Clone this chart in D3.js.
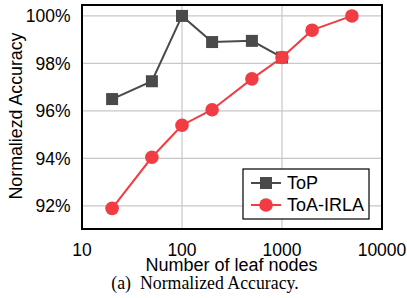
<!DOCTYPE html>
<html>
<head>
<meta charset="utf-8">
<script src="https://cdn.jsdelivr.net/npm/d3@7"></script>
<style>
  body { margin: 0; background: #fff; }
  svg { display: block; }
</style>
</head>
<body>
<svg id="chart" width="407" height="298"></svg>
<script>
// data
const topX = [20, 50, 100, 200, 500, 1000];
const topY = [96.5, 97.25, 100, 98.9, 98.95, 98.25];
const irlaX = [20, 50, 100, 200, 500, 1000, 2000, 5000];
const irlaY = [91.9, 94.05, 95.4, 96.05, 97.35, 98.25, 99.4, 100];
const xTicks = [10, 100, 1000, 10000];
const yTicks = [92, 94, 96, 98, 100];
const seriesNames = ["ToP", "ToA-IRLA"];

const svg = d3.select("#chart");
const pLeft = 82, pRight = 382, pTop = 5, pBottom = 229;
const font = "'Liberation Sans', Arial, sans-serif";

const x = d3.scaleLog().domain([10, 10000]).range([pLeft, pRight]);
const y = d3.scaleLinear().domain([91.03, 100.46]).range([pBottom, pTop]);

// grid
svg.append("g").selectAll("line").data(yTicks).enter().append("line")
  .attr("x1", pLeft).attr("x2", pRight)
  .attr("y1", d => y(d)).attr("y2", d => y(d))
  .attr("stroke", "#c8c8c8").attr("stroke-width", 1.2);
svg.append("g").selectAll("line").data(xTicks.slice(1, -1)).enter().append("line")
  .attr("y1", pTop).attr("y2", pBottom)
  .attr("x1", d => x(d)).attr("x2", d => x(d))
  .attr("stroke", "#c8c8c8").attr("stroke-width", 1.2);

// tick labels
svg.append("g").selectAll("text").data(yTicks).enter().append("text")
  .attr("x", 70.5).attr("y", d => y(d) + 6.3)
  .attr("text-anchor", "end")
  .attr("font-family", font).attr("font-size", 17.5)
  .text(d => d + "%");
svg.append("g").selectAll("text").data(xTicks).enter().append("text")
  .attr("x", d => x(d)).attr("y", 255.5)
  .attr("text-anchor", "middle")
  .attr("font-family", font).attr("font-size", 17.5)
  .text(d => d);

// frame
svg.append("rect")
  .attr("x", pLeft).attr("y", pTop)
  .attr("width", pRight - pLeft).attr("height", pBottom - pTop)
  .attr("fill", "none").attr("stroke", "#000").attr("stroke-width", 2);

const line = d3.line().x(d => x(d[0])).y(d => y(d[1]));
const topData = topX.map((v, i) => [v, topY[i]]);
const irlaData = irlaX.map((v, i) => [v, irlaY[i]]);
const grey = "#4a4a4a", red = "#f03c42";

svg.append("path").datum(topData).attr("d", line)
  .attr("fill", "none").attr("stroke", grey).attr("stroke-width", 2);
svg.append("g").selectAll("rect").data(topData).enter().append("rect")
  .attr("x", d => x(d[0]) - 6).attr("y", d => y(d[1]) - 6)
  .attr("width", 12).attr("height", 12).attr("fill", grey);

svg.append("path").datum(irlaData).attr("d", line)
  .attr("fill", "none").attr("stroke", red).attr("stroke-width", 2);
svg.append("g").selectAll("circle").data(irlaData).enter().append("circle")
  .attr("cx", d => x(d[0])).attr("cy", d => y(d[1]))
  .attr("r", 6.8).attr("fill", red);

// legend
const lg = svg.append("g");
lg.append("rect").attr("x", 243).attr("y", 169).attr("width", 126).attr("height", 50)
  .attr("fill", "#fff").attr("stroke", "#000").attr("stroke-width", 1.2);
[grey, red].forEach((c, i) => {
  const ly = 183 + i * 22;
  lg.append("line").attr("x1", 251).attr("x2", 281).attr("y1", ly).attr("y2", ly)
    .attr("stroke", c).attr("stroke-width", 2);
  if (i === 0) {
    lg.append("rect").attr("x", 260).attr("y", ly - 6).attr("width", 12).attr("height", 12).attr("fill", c);
  } else {
    lg.append("circle").attr("cx", 266).attr("cy", ly).attr("r", 6.8).attr("fill", c);
  }
  lg.append("text").attr("x", 287).attr("y", ly + 6.3)
    .attr("font-family", font).attr("font-size", 18)
    .text(seriesNames[i]);
});

// axis titles
svg.append("text").attr("x", 231.5).attr("y", 271)
  .attr("text-anchor", "middle").attr("font-family", font).attr("font-size", 18)
  .text("Number of leaf nodes");
svg.append("text").attr("transform", "translate(21.5,116) rotate(-90)")
  .attr("text-anchor", "middle").attr("font-family", font).attr("font-size", 17.8)
  .text("Normaliezd Accuracy");

// caption
svg.append("text").attr("x", 205).attr("y", 288.5)
  .attr("text-anchor", "middle").attr("font-family", "'Liberation Serif', 'Times New Roman', serif")
  .attr("font-size", 17.8).attr("xml:space", "preserve")
  .text("(a)  Normalized Accuracy.");
</script>
</body>
</html>
